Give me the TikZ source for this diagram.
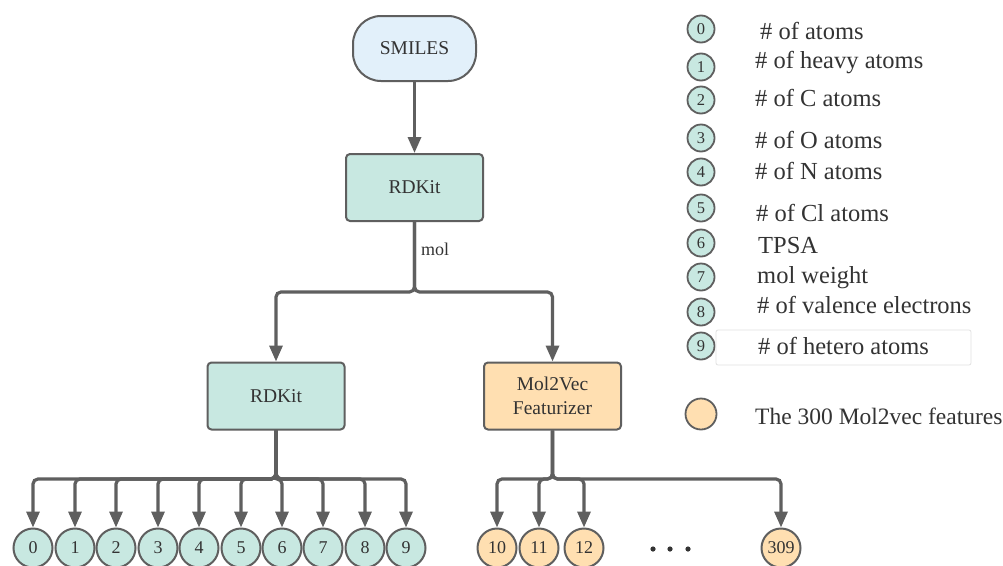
\documentclass[tikz,border=0pt]{standalone}
\usepackage{fontspec}
\setmainfont{Liberation Serif}
\usetikzlibrary{arrows.meta}

\definecolor{linegray}{HTML}{5F5F5F}
\definecolor{textgray}{HTML}{333333}
\definecolor{framegray}{HTML}{E2E2E2}
\definecolor{mint}{HTML}{C8E8E1}
\definecolor{peach}{HTML}{FFDFB1}
\definecolor{skyfill}{HTML}{E2F0FA}

\begin{document}
\begin{tikzpicture}[x=1pt,y=-1pt,
    box/.style={draw=linegray, line width=2pt, rounded corners=4pt, minimum width=137pt, minimum height=67pt,
      inner sep=0pt, align=center, text=textgray, font=\fontsize{19.5}{24}\selectfont},
    feat/.style={circle, draw=linegray, line width=2pt, fill=mint, minimum size=39pt, inner sep=0pt,
      text=textgray, font=\fontsize{18}{18}\selectfont},
    key/.style={circle, draw=linegray, line width=1.8pt, fill=mint, minimum size=27pt, inner sep=0pt,
      text=textgray, font=\fontsize{16.5}{16.5}\selectfont},
    keytext/.style={anchor=base west, inner sep=0pt, text=textgray, font=\fontsize{24.5}{24}\selectfont},
    flow/.style={draw=linegray, line width=3.2pt, rounded corners=5pt, -{Triangle[width=13pt,length=16pt]}}
  ]
        % Canvas
        \useasboundingbox (0,0) rectangle (1003,565);
        \fill[white] (0,0) rectangle (1003,565);
        \clip (0,0) rectangle (1003,565);

        % Pipeline boxes
        \node[box, fill=skyfill, rounded corners=28pt, minimum width=123pt, minimum height=65pt] (smiles) at (414.5,48.5) {SMILES};
        \node[box, fill=mint] (rdkit) at (414.5,187.5) {RDKit};
        \node[box, fill=mint] (rdkitA) at (276,396) {RDKit};
        \node[box, fill=peach] (molvec) at (552.5,396) {Mol2Vec\\Featurizer};

        % Feature circles
        \foreach \n/\x in {0/33,1/75,2/116,3/158,4/199,5/241,6/282,7/323,8/365,9/406}
          \node[feat] (f\n) at (\x,548) {\n};
        \foreach \n/\x in {10/497,11/539,12/584,309/781}
          \node[feat, fill=peach] (f\n) at (\x,548) {\n};

        % Dots between 12 and 309
        \foreach \x in {653,670,688}
          \fill[textgray] (\x,549) circle (2.6pt);

        % Junctions
        \coordinate (splitTop) at (414.5,292);
        \coordinate (splitA) at (276,479);
        \coordinate (splitB) at (552.5,479);

        % Connectors
        \draw[flow] (smiles) -- (rdkit);
        \draw[flow] (rdkit.south) -- (splitTop) -| (rdkitA.north);
        \draw[flow] (rdkit.south) -- (splitTop) -| (molvec.north);
        \node[anchor=base west, inner sep=0pt, text=textgray, font=\fontsize{18}{18}\selectfont] (mol) at (421,255) {mol};
        \foreach \n in {0,...,9}
          \draw[flow] (rdkitA.south) -- (splitA) -| (f\n.north);
        \foreach \n in {10,11,12,309}
          \draw[flow] (molvec.south) -- (splitB) -| (f\n.north);

        % Legend
        \foreach \n/\y in {0/29,1/67,2/100,3/138,4/172,5/208,6/243,7/277,8/312,9/346}
          \node[key] (k\n) at (701,\y) {\n};
        \node[key, fill=peach, minimum size=31pt] (kvec) at (701,414) {};

        \draw[framegray, line width=0.8pt, rounded corners=2pt] (716,330) rectangle (971,365); % frame round item 9
        \foreach \n/\x/\y/\t in {0/760/39/{\# of atoms}, 1/755/68/{\# of heavy atoms}, 2/755/106/{\# of C atoms},
            3/755/148/{\# of O atoms}, 4/755/179/{\# of N atoms}, 5/756/221/{\# of Cl atoms}, 6/758/253/{TPSA},
            7/757/283/{mol weight}, 8/757/313/{\# of valence electrons}, 9/758/354/{\# of hetero atoms}}
          \node[keytext] (t\n) at (\x,\y) {\t};
        \node[keytext, font=\fontsize{23.5}{24}\selectfont] (tvec) at (755,424) {The 300 Mol2vec features};

\end{tikzpicture}
\end{document}
